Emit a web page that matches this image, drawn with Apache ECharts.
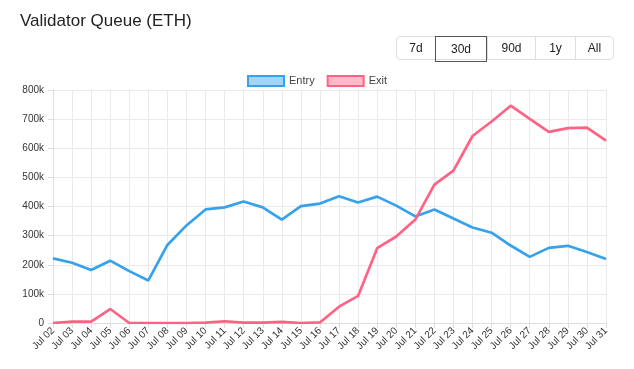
<!DOCTYPE html>
<html><head><meta charset="utf-8">
<script src="https://cdn.jsdelivr.net/npm/echarts@6/dist/echarts.min.js"></script>
<style>
html,body{margin:0;padding:0;background:#fff;}
#wrap{position:relative;width:634px;height:369px;}
#chart{position:absolute;left:0;top:0;width:634px;height:369px;}
#btns{position:absolute;left:396px;top:36px;height:24px;display:flex;border:1px solid #ddd;border-radius:4px;font-family:"Liberation Sans",Arial,sans-serif;font-size:12px;color:#222;box-sizing:border-box;}
#btns div{display:flex;align-items:center;justify-content:center;border-left:1px solid #ddd;box-sizing:border-box;}
#btns div:first-child{border-left:none;}
#btns div.sel{border:1px solid #555;margin:-1px 0;height:26px;}
</style></head>
<body><div id="wrap"><div id="chart"></div>
<div id="btns"><div style="width:38px">7d</div><div class="sel" style="width:52px">30d</div><div style="width:48px">90d</div><div style="width:40px">1y</div><div style="width:38px">All</div></div>
</div>
<script>
const categories = ['Jul 02','Jul 03','Jul 04','Jul 05','Jul 06','Jul 07','Jul 08','Jul 09','Jul 10','Jul 11','Jul 12','Jul 13','Jul 14','Jul 15','Jul 16','Jul 17','Jul 18','Jul 19','Jul 20','Jul 21','Jul 22','Jul 23','Jul 24','Jul 25','Jul 26','Jul 27','Jul 28','Jul 29','Jul 30','Jul 31'];
const entryValues = [222000,207000,182000,214000,178000,146000,268000,335000,390000,397000,417000,397000,355000,401000,410000,435000,414000,434000,403000,366000,390000,359000,328000,310000,266000,227000,258000,265000,244000,220000];
const exitValues = [0,5000,5000,48000,0,0,0,0,1000,6000,1000,1000,4000,0,2000,56000,93000,257000,297000,355000,475000,523000,642000,692000,746000,701000,656000,669000,671000,626000];
const yTicks = {min:0, max:800000, interval:100000};

const chart = echarts.init(document.getElementById('chart'));
const font = '"Liberation Sans", Arial, sans-serif';
chart.setOption({
  animation:false,
  title:{text:'Validator Queue (ETH)', left:15, top:8, textStyle:{fontFamily:font, fontSize:17, fontWeight:'normal', color:'#222'}},
  legend:{top:70, left:'center', itemWidth:36, itemHeight:10, itemGap:12,
    textStyle:{fontFamily:font, fontSize:11, color:'#444'},
    data:[
      {name:'Entry', icon:'rect', itemStyle:{color:'rgba(54,162,235,0.45)', borderColor:'#36a2eb', borderWidth:2}},
      {name:'Exit', icon:'rect', itemStyle:{color:'rgba(255,99,132,0.45)', borderColor:'#ff6384', borderWidth:2}}
    ]},
  grid:{left:53, right:28, top:90, bottom:46},
  xAxis:{type:'category', data:categories, boundaryGap:false,
    axisLine:{lineStyle:{color:'#ddd'}},
    axisTick:{show:true, length:5, lineStyle:{color:'#ddd'}},
    splitLine:{show:true, lineStyle:{color:'#eaeaea'}},
    axisLabel:{rotate:45, fontSize:10, fontFamily:font, color:'#333', margin:6, interval:0}},
  yAxis:{type:'value', min:yTicks.min, max:yTicks.max, interval:yTicks.interval,
    axisLine:{show:true, lineStyle:{color:'#ddd'}},
    axisTick:{show:true, length:5, lineStyle:{color:'#ddd'}},
    splitLine:{lineStyle:{color:'#eaeaea'}},
    axisLabel:{fontSize:10, fontFamily:font, color:'#333', margin:9, formatter:v=> v===0?'0':(v/1000)+'k'}},
  series:[
    {name:'Entry', type:'line', data:entryValues, symbol:'none', lineStyle:{width:2.7, color:'#36a2eb'}, itemStyle:{color:'#36a2eb'}},
    {name:'Exit', type:'line', data:exitValues, symbol:'none', lineStyle:{width:2.7, color:'#ff6384'}, itemStyle:{color:'#ff6384'}}
  ]
});
</script></body></html>
